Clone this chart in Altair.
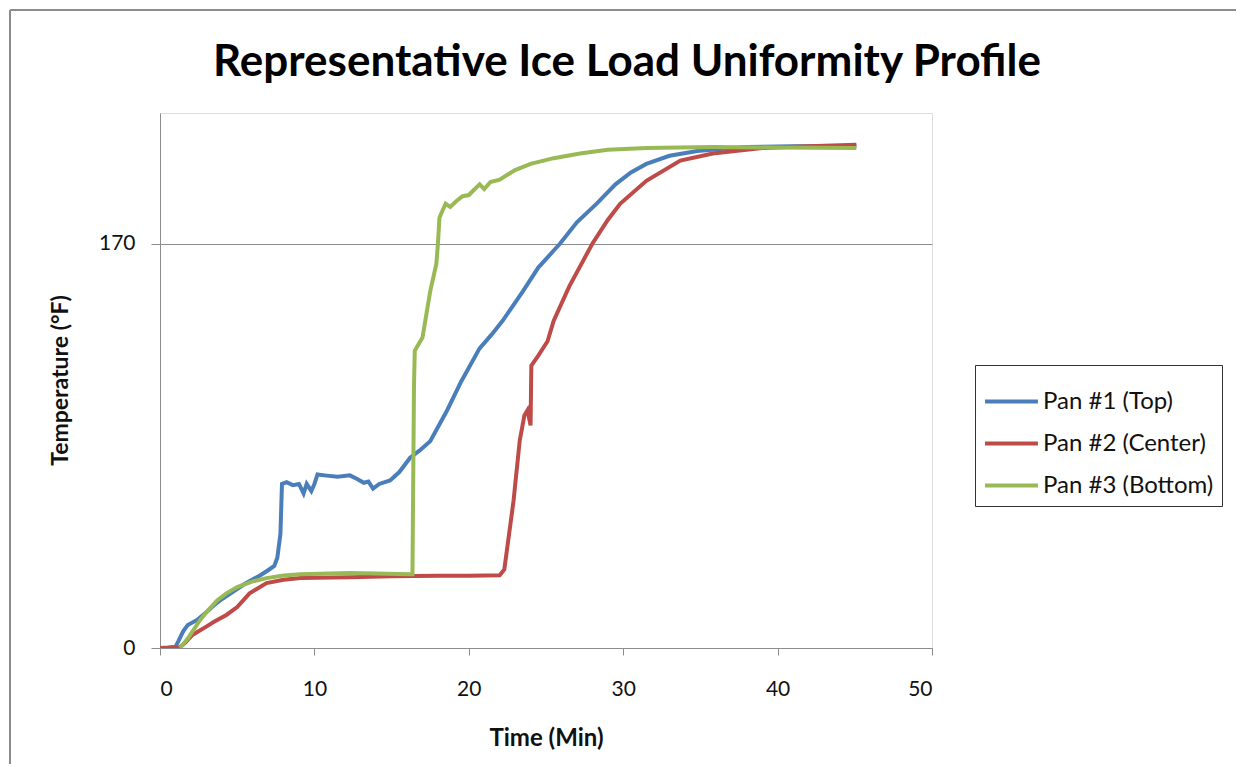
import altair as alt
import pandas as pd

# ---- data ----
pan1_t = [0, 0.5, 1.0, 1.2, 1.5, 1.8, 2.4, 3.0, 3.5, 4.0, 4.7, 5.5, 6.5, 7.0, 7.4, 7.6, 7.8, 7.9,
          8.2, 8.6, 9.0, 9.3, 9.5, 9.8, 10.0, 10.2, 10.8, 11.5, 12.3, 12.8, 13.2, 13.5, 13.8, 14.2,
          14.9, 15.5, 16.2, 16.8, 17.5, 18.6, 19.5, 20.7, 21.5, 22.2, 23.5, 24.5, 25.9, 27.0, 28.3,
          29.5, 30.5, 31.5, 33.0, 34.8, 36.5, 38.0, 41.0, 45.1]
pan1_y = [0, 0.2, 0.5, 3, 7, 9.7, 11.8, 15, 18, 20.5, 23.5, 27, 30.6, 32.7, 34.5, 38, 48, 69,
          69.7, 68.5, 69, 65, 69, 66, 69, 73, 72.5, 72, 72.6, 71, 69.5, 70, 67, 69,
          70.5, 74, 80, 83, 87, 100, 112, 126, 132, 137.7, 150, 160, 170, 179, 187,
          195, 200, 203.6, 207, 209, 210, 210.7, 211, 211]

pan2_t = [0, 0.5, 1.2, 1.6, 2.1, 3.0, 3.5, 4.3, 5.0, 5.8, 6.9, 8.0, 9.1, 12.3, 15.0, 18.0, 20.0,
          22.0, 22.3, 22.9, 23.3, 23.6, 23.8, 24.0, 24.05, 24.5, 25.1, 25.5, 26.5, 28.0, 29.0,
          29.8, 31.5, 33.7, 35.8, 39.0, 42.0, 45.1]
pan2_y = [0, 0, 0, 2, 5.5, 9, 11, 13.9, 17.2, 23, 27.3, 28.7, 29.4, 29.8, 30.2, 30.4, 30.4,
          30.6, 33, 62, 87.3, 97.8, 100, 93.6, 118.8, 123, 129, 137.7, 152, 170, 180,
          186.8, 196.5, 205, 208, 210.3, 211, 211.6]

pan3_t = [1.3, 1.8, 2.6, 3.2, 3.7, 4.3, 5.0, 6.0, 6.9, 8.0, 9.1, 12.3, 14.0, 16.2, 16.35, 16.45,
          16.5, 17.0, 17.5, 17.9, 18.0, 18.1, 18.3, 18.5, 18.8, 19.2, 19.6, 20.0, 20.7, 21.0,
          21.4, 22.0, 23.0, 24.0, 25.5, 27.2, 29.0, 31.5, 35.8, 40.0, 45.1]
pan3_y = [0, 4, 11.8, 16.5, 20, 23, 25.6, 28, 29.4, 30.5, 31, 31.5, 31.3, 31, 31, 110,
          125, 130.6, 150, 161.6, 170, 181, 184, 186.8, 185.5, 188, 190, 190.5, 195, 193,
          196, 197, 201, 203.6, 206, 208, 209.5, 210.3, 210.7, 210.5, 210.3]

series_names = ["Pan #1 (Top)", "Pan #2 (Center)", "Pan #3 (Bottom)"]
series_colors = ["#4A7EBB", "#BE4B48", "#98B954"]
x_ticks = [0, 10, 20, 30, 40, 50]
y_ticks = [0, 170]
chart_title = "Representative Ice Load Uniformity Profile"

rows = []
for name, ts, ys in zip(series_names, [pan1_t, pan2_t, pan3_t], [pan1_y, pan2_y, pan3_y]):
    for t, y in zip(ts, ys):
        rows.append({"Time": t, "Temp": y, "Series": name})
df = pd.DataFrame(rows)

FONT = "Lato"

lines = alt.Chart(df).mark_line(strokeWidth=4, clip=True).encode(
    x=alt.X("Time:Q", scale=alt.Scale(domain=[0, 50], nice=False),
            axis=alt.Axis(values=x_ticks, title="Time (Min)", grid=False,
                          domainColor="#8c8c8c", tickColor="#8c8c8c", tickSize=7,
                          labelFontSize=21, labelPadding=23, labelFont=FONT, labelColor="#111",
                          titleFont=FONT, titleFontSize=24, titleFontWeight="bold",
                          titleColor="#111", titleY=90, titleBaseline="middle")),
    y=alt.Y("Temp:Q", scale=alt.Scale(domain=[0, 225], nice=False),
            axis=alt.Axis(values=y_ticks, title="Temperature (°F)", grid=True,
                          gridColor="#8c8c8c", domainColor="#8c8c8c", tickColor="#8c8c8c",
                          tickSize=9, labelFontSize=21, labelPadding=16, labelFont=FONT,
                          labelColor="#111", titleFont=FONT, titleFontSize=23,
                          titleFontWeight="bold", titleColor="#111", titleAngle=-90,
                          titleX=-100, titleY=267, titleAlign="center",
                          titleBaseline="middle")),
    color=alt.Color("Series:N", scale=alt.Scale(domain=series_names, range=series_colors),
                    legend=alt.Legend(title=None, orient="none", legendX=815, legendY=252,
                                      symbolType="stroke", symbolSize=2800,
                                      symbolStrokeWidth=4, labelFont=FONT, labelFontSize=24,
                                      labelLimit=400,
                                      labelColor="#111", labelOffset=3, rowPadding=1,
                                      padding=8, strokeColor="#333", fillColor="white")),
)

one_row = pd.DataFrame([{"label": chart_title}])
frame_left = alt.Chart(one_row).mark_rule(color="#8c8c8c", strokeWidth=2).encode(
    x=alt.value(-150), y=alt.value(-103), y2=alt.value(660))
frame_top = alt.Chart(one_row).mark_rule(color="#8c8c8c", strokeWidth=2).encode(
    x=alt.value(-150), x2=alt.value(1080), y=alt.value(-103))
title_text = alt.Chart(one_row).mark_text(
    font=FONT, fontSize=44, fontWeight="bold", color="#000", align="center",
    baseline="alphabetic").encode(
    text="label:N", x=alt.value(467), y=alt.value(-37))

chart = alt.layer(frame_left, frame_top, title_text, lines).properties(
    width=772, height=535,
    autosize=alt.AutoSizeParams(type="none"),
    padding={"left": 152, "top": 105, "right": 304, "bottom": 116},
).configure_view(stroke=None).configure(background="white")

chart.save("out.html", embed_options={"renderer": "svg", "actions": False})
